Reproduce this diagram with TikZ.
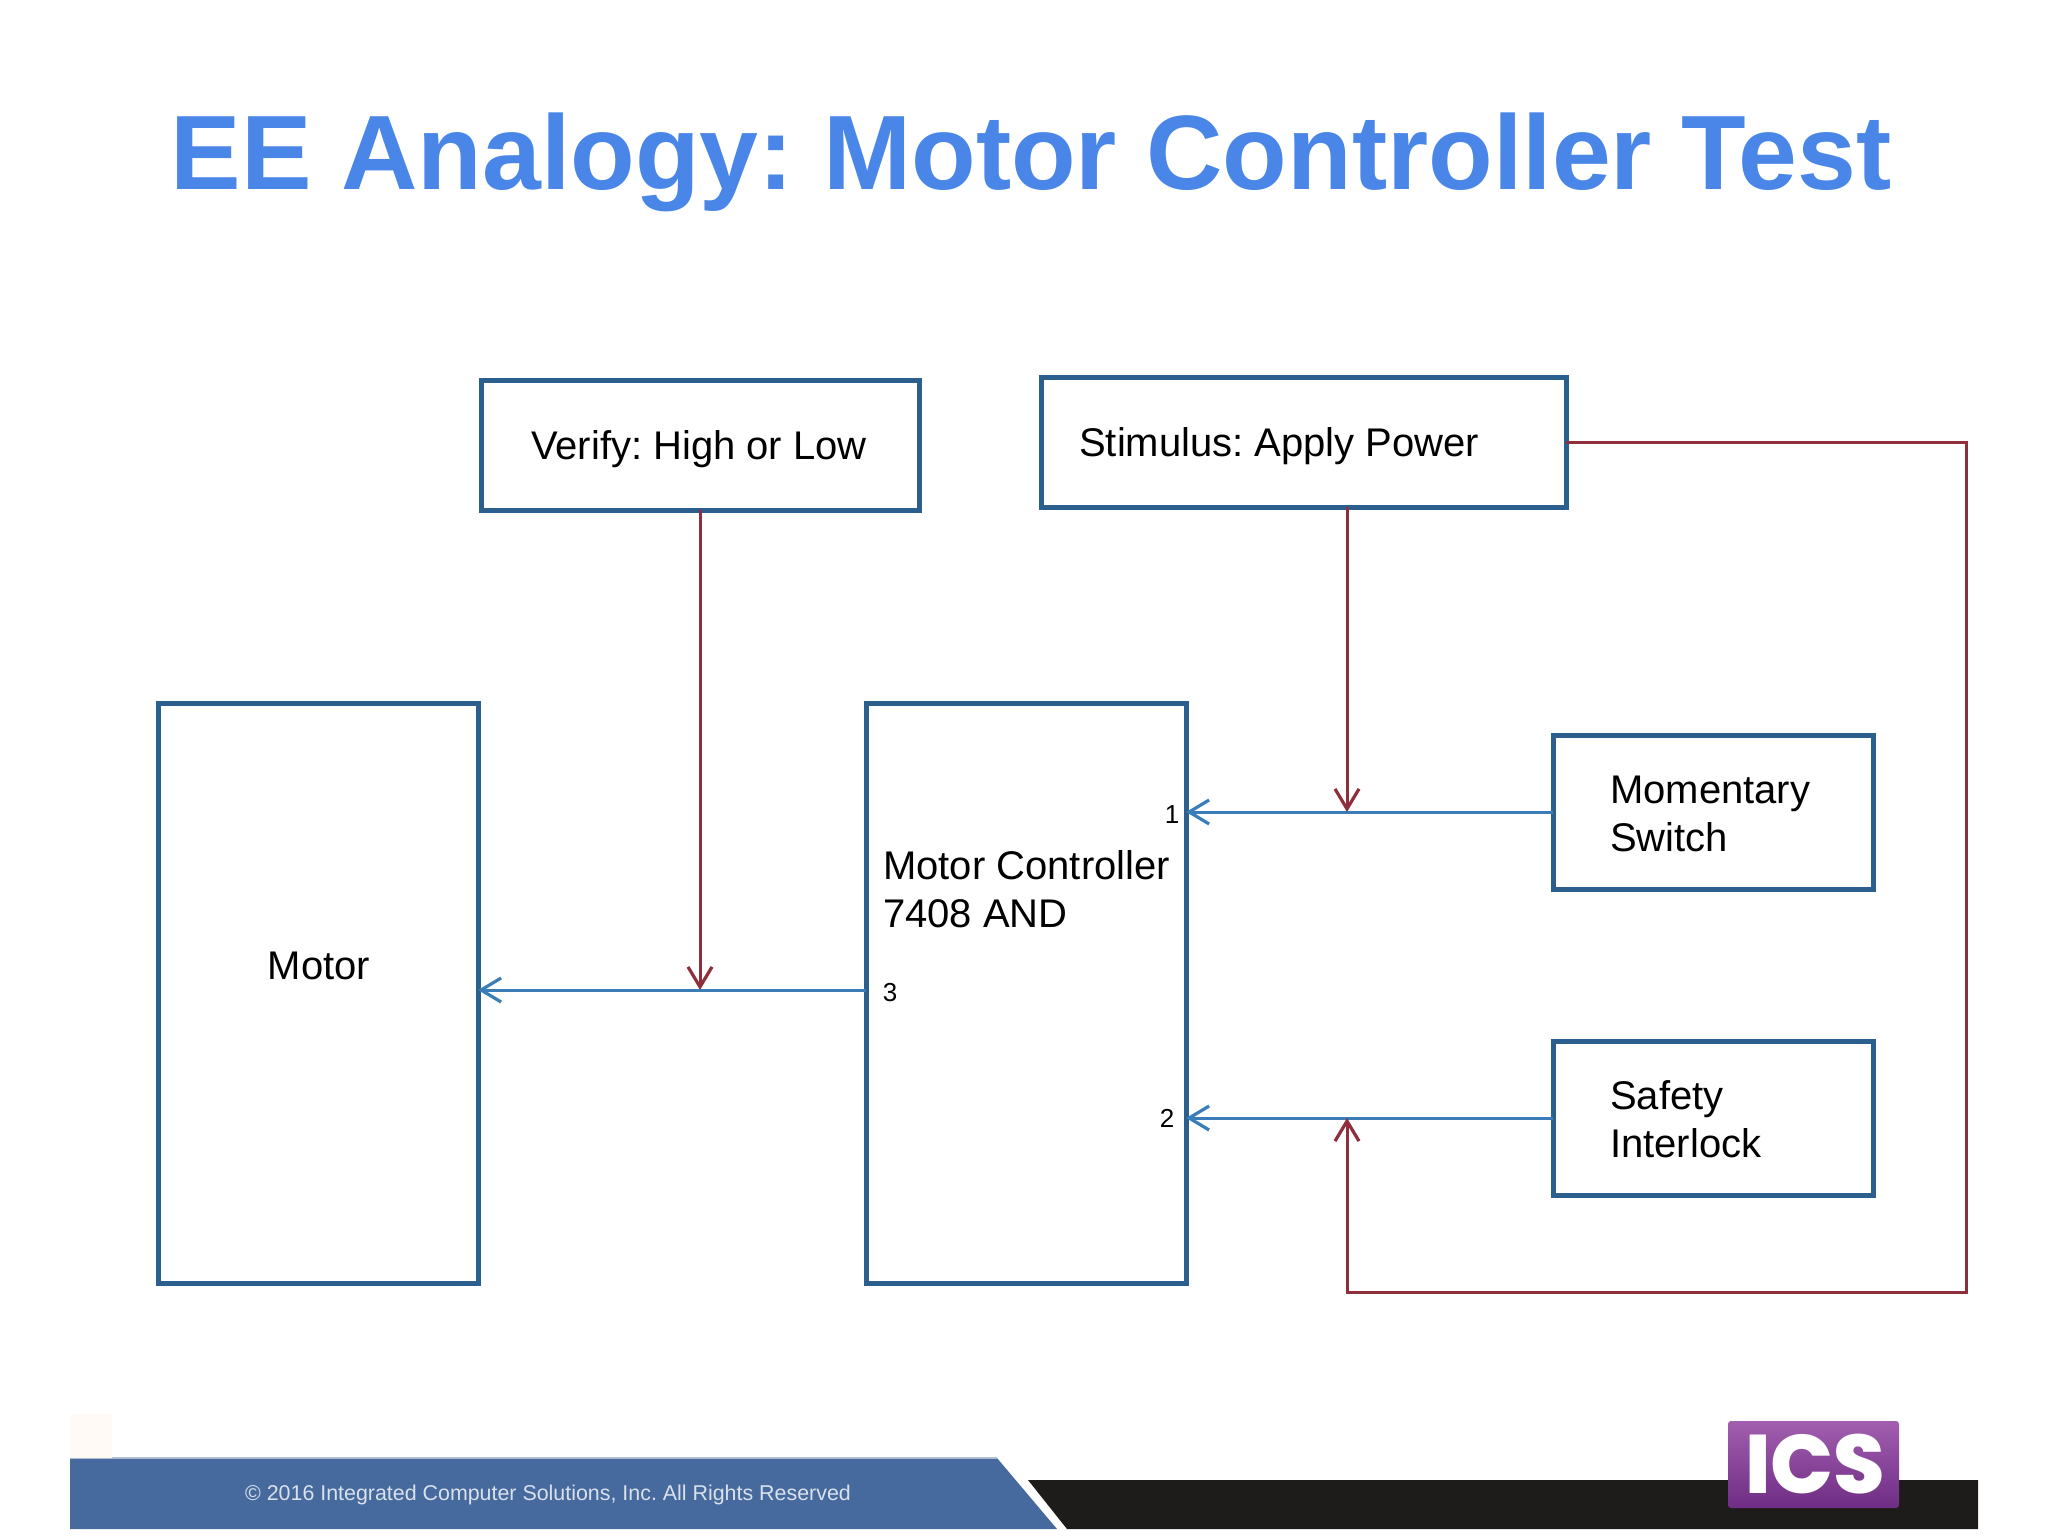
\documentclass[tikz,border=0pt]{standalone}
\usepackage{fontspec}
\setmainfont{Liberation Sans}
\usetikzlibrary{arrows.meta}
\frenchspacing
\definecolor{titleblue}{HTML}{4A86E8}
\definecolor{boxblue}{HTML}{2A5F8E}
\definecolor{wireblue}{HTML}{3A7DB8}
\definecolor{wirered}{HTML}{8F2F3C}
\definecolor{bandblue}{HTML}{466A9E}
\definecolor{bandblack}{HTML}{1E1C1A}
\definecolor{logotop}{HTML}{A25FB0}
\definecolor{logobot}{HTML}{6E2C84}
\tikzset{
  x=1pt,y=-1pt,
  boxnode/.style={draw=boxblue,line width=5pt,fill=none,inner sep=0pt,outer sep=0pt,anchor=north west,miter limit=10},
  txt/.style={font=\fontsize{40}{48}\selectfont,inner sep=0pt,text=black,align=left},
  pin/.style={font=\fontsize{26}{30}\selectfont,inner sep=0pt,text=black},
  bluewire/.style={draw=wireblue,line width=3pt,-{Straight Barb[length=20pt,width=24pt,line width=3.2pt]}},
  redwire/.style={draw=wirered,line width=3pt,-{Straight Barb[length=20pt,width=24pt,line width=3.2pt]}},
}
\begin{document}
\begin{tikzpicture}
\useasboundingbox (0,0) rectangle (2048,1536);
\fill[white] (0,0) rectangle (2048,1536);
% title
\node[name=title,inner sep=0pt,text=titleblue,font=\fontsize{105.8}{120}\selectfont\bfseries] at (1031,162) {EE Analogy: Motor Controller Test};
% boxes
\node[boxnode,minimum width=438pt,minimum height=130pt] (verify) at (481,380) {};
\node[boxnode,minimum width=525pt,minimum height=130pt] (stim) at (1041,377) {};
\node[boxnode,minimum width=320pt,minimum height=580pt] (motor) at (158,703) {};
\node[boxnode,minimum width=320pt,minimum height=580pt] (mc) at (866,703) {};
\node[boxnode,minimum width=320pt,minimum height=154pt] (mom) at (1553,735) {};
\node[boxnode,minimum width=320pt,minimum height=154pt] (safety) at (1553,1041) {};
% texts
\node[txt] (tverify) at (699,449) {Verify: High or Low};
\node[txt,anchor=west] (tstim) at (1079,446) {Stimulus: Apply Power};
\node[txt] (tmotor) at (319,966) {Motor};
\node[txt,anchor=west] (tmc) at (883,889) {Motor Controller\\7408 AND};
\node[txt,anchor=west] (tmom) at (1610,814) {Momentary\\Switch};
\node[txt,anchor=west] (tsafe) at (1610,1119) {Safety\\Interlock};
\node[pin] (p1) at (1172,815) {1};
\node[pin] (p2) at (1167,1118) {2};
\node[pin] (p3) at (890,993) {3};
% connection coordinates
\coordinate (out3) at (866,990);
\coordinate (j1) at (1347,812);
\coordinate (j2) at (1347,1118);
\coordinate (j3) at (verify.south |- out3);
\coordinate (loopa) at (1966,442);
\coordinate (loopb) at (1966,1292);
\coordinate (loopc) at (1347,1292);
% blue wires
\draw[bluewire] (mom.west) -- (mc.east |- mom.west);
\draw[bluewire] (safety.west) -- (mc.east |- safety.west);
\draw[bluewire] (out3) -- (motor.east |- out3);
% red wires
\draw[redwire] (verify.south) -- (j3);
\draw[redwire] (stim.south -| j1) -- (j1);
\draw[redwire,line join=miter] (stim.east |- loopa) -- (loopa) -- (loopb) -- (loopc) -- (j2);
% footer
\fill[bandblack] (1028,1480) -- (1978,1480) -- (1978,1529) -- (1067,1529) -- cycle;
\fill[bandblue] (70,1458) -- (997,1458) -- (1057,1529) -- (70,1529) -- cycle;
\draw[color=bandblue!45!white,line width=1.5pt] (70,1458) -- (997,1458);
\fill[orange!4!white] (70,1414) rectangle (112,1458);
\node[name=foot,inner sep=0pt,text=white!80!bandblue,font=\fontsize{21.4}{28}\selectfont] at (548,1495) {© 2016 Integrated Computer Solutions, Inc. All Rights Reserved};
% logo
\node[name=logo,anchor=north west,inner sep=0pt,outer sep=0pt,minimum width=171pt,minimum height=87pt,rounded corners=3pt,top color=logotop,bottom color=logobot] at (1728,1421) {};
\node[name=logotext,inner sep=0pt,text=white,font=\fontsize{83}{90}\fontspec{Poppins ExtraBold}] at (1815,1464) {ICS};
\end{tikzpicture}
\end{document}
